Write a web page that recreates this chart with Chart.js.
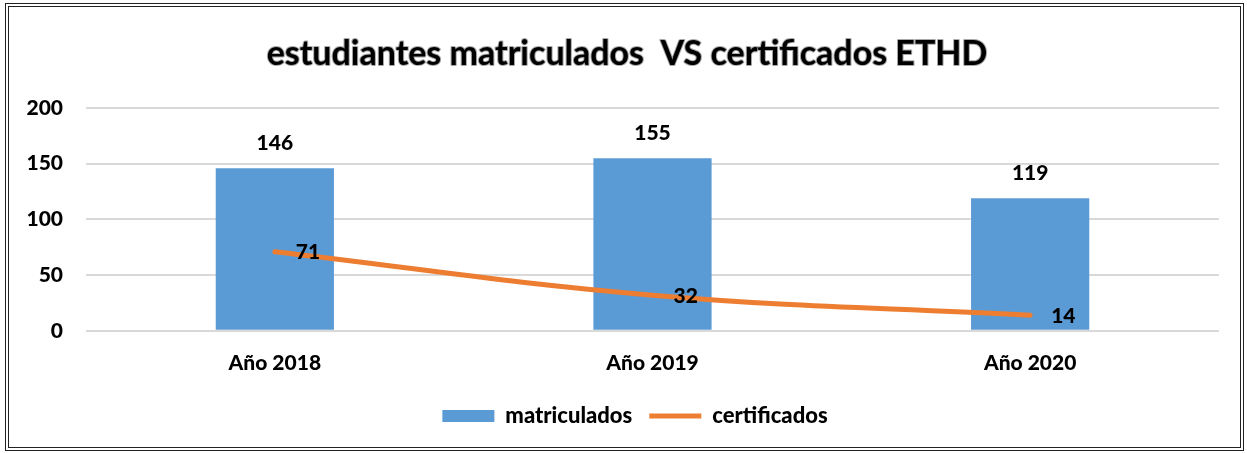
<!DOCTYPE html>
<html>
<head>
<meta charset="utf-8">
<script src="https://cdn.jsdelivr.net/npm/chart.js@4"></script>
<style>
  body { margin: 0; background: #fff; }
  #wrap {
    position: absolute; left: 5px; top: 3px;
    width: 1231px; height: 440px;
    border: 4px double #222;
  }
</style>
</head>
<body>
<div id="wrap"><canvas id="chart" width="1231" height="440"></canvas></div>
<script>
// data
const years = ['Año 2018', 'Año 2019', 'Año 2020'];
const matriculados = [146, 155, 119];
const certificados = [71, 32, 14];
const yTicks = [0, 50, 100, 150, 200];

const FONT = 'Lato, "Open Sans", sans-serif';

// draws the value labels (no datalabels plugin offline)
const valueLabels = {
    id: 'valueLabels',
    afterDatasetsDraw(chart) {
        const ctx = chart.ctx;
        ctx.save();
        ctx.font = '900 21px ' + FONT;
        ctx.fillStyle = '#000';
        ctx.textBaseline = 'middle';
        chart.data.datasets.forEach((ds, di) => {
            chart.getDatasetMeta(di).data.forEach((el, i) => {
                if (ds.type === 'bar') {
                    ctx.textAlign = 'center';
                    ctx.fillText(ds.data[i], el.x, el.y - 25);
                } else {
                    ctx.textAlign = 'left';
                    ctx.fillText(ds.data[i], el.x + 21, el.y + 1);
                }
            });
        });
        ctx.restore();
    }
};

// title with a soft grey outline, like the original
const shadowTitle = {
    id: 'shadowTitle',
    afterDraw(chart) {
        const ctx = chart.ctx;
        const text = 'estudiantes matriculados  VS certificados ETHD';
        ctx.save();
        ctx.font = 'bold 34px ' + FONT;
        ctx.textAlign = 'center';
        ctx.textBaseline = 'middle';
        ctx.lineJoin = 'round';
        ctx.lineWidth = 2;
        ctx.strokeStyle = 'rgba(110,110,110,0.6)';
        const x = 618, y = 47;
        ctx.strokeText(text, x, y);
        ctx.fillStyle = '#000';
        ctx.fillText(text, x, y);
        ctx.restore();
    }
};

// the legend sits a little right of centre in the original
const nudgeLegend = {
    id: 'nudgeLegend',
    afterLayout(chart) {
        chart.legend.left += 21;
        chart.legend.right += 21;
    }
};

new Chart(document.getElementById('chart'), {
    data: {
        labels: years,
        datasets: [
            {
                type: 'line',
                label: 'certificados',
                data: certificados,
                borderColor: '#ED7D31',
                backgroundColor: '#ED7D31',
                borderWidth: 5,
                borderCapStyle: 'round',
                tension: 0.4,
                pointRadius: 0,
                pointStyle: 'line',
                order: 0
            },
            {
                type: 'bar',
                label: 'matriculados',
                data: matriculados,
                backgroundColor: '#5B9BD5',
                borderWidth: 0,
                pointStyle: 'rect',
                categoryPercentage: 1,
                barPercentage: 0.313,
                order: 1
            }
        ]
    },
    options: {
        responsive: false,
        animation: false,
        layout: { padding: { top: 101, right: 21, left: 0, bottom: 10 } },
        plugins: {
            title: { display: false },
            tooltip: { enabled: false },
            legend: {
                position: 'bottom',
                reverse: true,
                labels: {
                    usePointStyle: true,
                    pointStyleWidth: 52,
                    boxHeight: 12,
                    padding: 17,
                    color: '#000',
                    font: { family: FONT, size: 22, weight: '900' }
                }
            }
        },
        scales: {
            x: {
                grid: { display: false },
                border: { display: false },
                ticks: {
                    color: '#000',
                    padding: 12,
                    font: { family: FONT, size: 21, weight: '900' }
                }
            },
            y: {
                min: 0,
                max: 200,
                afterBuildTicks: axis => { axis.ticks = yTicks.map(v => ({ value: v })); },
                afterFit: axis => { axis.width = 77; },
                grid: { color: '#d9d9d9', lineWidth: 2, drawTicks: false },
                border: { display: false },
                ticks: {
                    color: '#000',
                    padding: 23,
                    font: { family: FONT, size: 21, weight: '900' }
                }
            }
        }
    },
    plugins: [valueLabels, shadowTitle, nudgeLegend]
});
</script>
</body>
</html>
